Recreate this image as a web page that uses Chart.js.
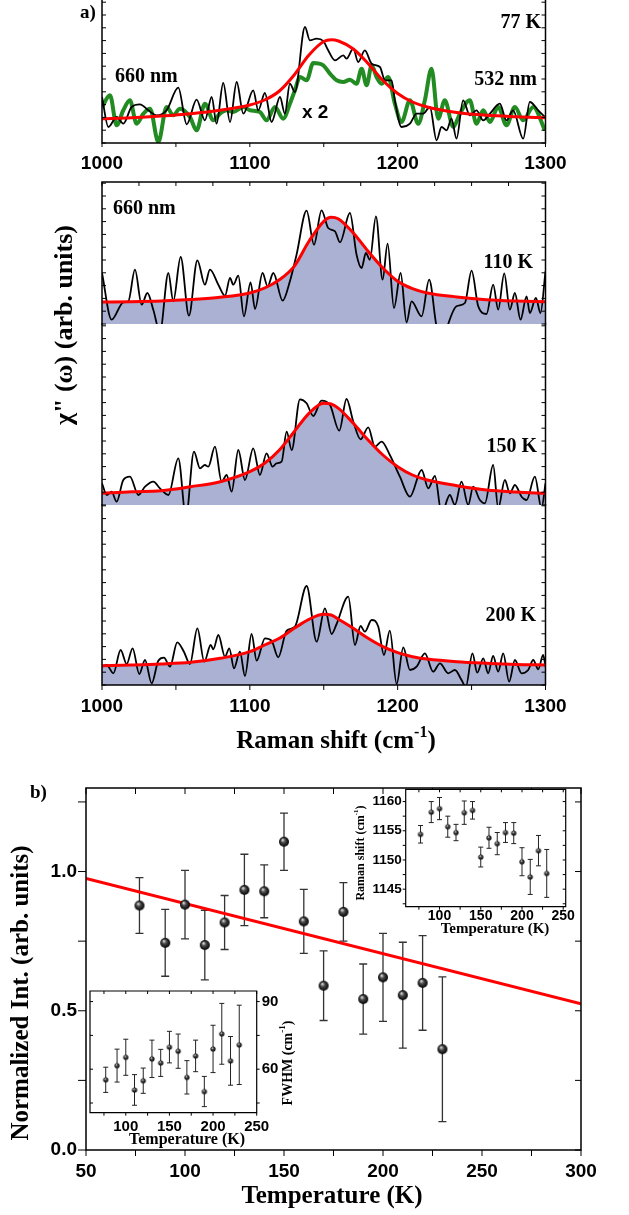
<!DOCTYPE html>
<html>
<head>
<meta charset="utf-8">
<script src="https://cdn.jsdelivr.net/npm/chart.js@4.4.1/dist/chart.umd.min.js"></script>
<style>
  html, body { margin: 0; padding: 0; background: #fff; }
  #fig { position: relative; width: 629px; height: 1215px; overflow: hidden; background: #fff; }
  #fig canvas { position: absolute; left: 0; top: 0; }
</style>
</head>
<body>
<div id="fig"></div>
<script>
// ---- a) Raman spectra (arb. units), x in cm-1 ----
// Lorentzian fits, sampled on a common shift grid
const fitShift = [1000, 1020, 1040, 1060, 1080, 1100, 1110, 1120, 1130, 1140, 1150, 1155, 1160, 1170, 1180, 1190, 1200, 1210, 1220, 1240, 1260, 1280, 1300];
const fit77  = [24.3, 25.3, 27, 29.3, 32.7, 38, 43, 52, 68, 88, 101.5, 103.3, 102, 94, 79.5, 62.5, 49.5, 41, 36, 30.5, 27.7, 26.3, 25.3];
const fit110 = [22, 22.3, 23, 24.5, 26.7, 31, 36, 44.3, 57.7, 82.7, 102.7, 106.7, 105, 91, 72.7, 56, 42.7, 35.3, 31, 27, 24.3, 23, 22.3];
const fit150 = [11.7, 13.3, 14.3, 18.3, 23.3, 33.3, 41.7, 55, 73.3, 91.7, 101.7, 101, 96.7, 81.7, 65, 50, 38.3, 30, 25, 19.3, 15, 13, 11.7];
const fit200 = [19.3, 20, 21, 22.7, 26.7, 33.3, 40, 46.7, 56.7, 65.7, 70.7, 70, 65.7, 56.7, 46.7, 38.3, 32.3, 28.3, 26, 23.3, 21.7, 20.5, 20];

// 77 K, 660 nm
const shift77 = [1000, 1004.3, 1009.9, 1014.4, 1020, 1025.7, 1031.3, 1037, 1043.7, 1051.6, 1057.3, 1064, 1069.6, 1074.2, 1077.5, 1082, 1086.6, 1091.1, 1095.6, 1102.3, 1105.7, 1110.2, 1114.7, 1120.4, 1123.7, 1127.1, 1130.5, 1137.3, 1140.6, 1145.2, 1149.7, 1153, 1157.6, 1163.2, 1165.4, 1170, 1173.3, 1177.8, 1182.4, 1188, 1191.4, 1195.9, 1198.1, 1202.6, 1208.3, 1212.8, 1217.3, 1221.8, 1226.3, 1229.7, 1233.1, 1236.4, 1239.8, 1244.3, 1248.8, 1253.3, 1257.9, 1262.4, 1269.1, 1273.6, 1278.1, 1284.9, 1289.4, 1295.1, 1299.6];
const int77 = [46, 16, 26, 19.3, 36, 38.7, 32.7, 27.7, 32.7, 55.3, 18.7, 43.3, 22.7, 46, 19.3, 60, 21, 61, 29.3, 52.7, 32.7, 50, 21, 46, 29.3, 59.3, 51, 116, 102.7, 104.3, 102, 92.7, 82.7, 87.7, 84.3, 94.3, 81, 92.7, 79.3, 76, 62.7, 62.7, 42.7, 16, 19.3, 29.3, 29.3, 36, 2.7, 16, 12.7, 24.3, 4.3, 42.7, 27.7, 32.7, 22.7, 29.3, 39.3, 22.7, 32.7, 4.3, 41, 32.7, 26];

// 77 K, 532 nm (x 2)
const shift77g = [1000, 1005.4, 1009.9, 1014.4, 1018.9, 1023.4, 1028, 1032.5, 1038.1, 1043.7, 1048.2, 1052.7, 1059.5, 1064, 1069.6, 1075.3, 1079.8, 1084.3, 1088.8, 1095.6, 1100.1, 1106.8, 1111.3, 1117, 1122.6, 1127.1, 1130.5, 1133.9, 1138.4, 1142.9, 1149.7, 1154.2, 1158.7, 1163.2, 1167.7, 1172.2, 1175.6, 1179, 1182.4, 1185.7, 1189.1, 1193.6, 1198.1, 1202.6, 1208.3, 1213.9, 1218.4, 1222.9, 1227.4, 1231.9, 1237.6, 1242.1, 1248.8, 1253.3, 1257.9, 1262.4, 1268, 1273.6, 1279.3, 1284.9, 1291.7, 1299.6];
const int77g = [36, 47.7, 17.7, 32.7, 42.7, 19.3, 29.3, 34.3, 1, 36, 27.7, 34.3, 26, 12.7, 39.3, 22.7, 29.3, 32.7, 31, 36, 32.7, 31, 22.7, 36, 24.3, 39.3, 52.7, 66, 62.7, 80, 77.7, 69.3, 62.7, 61, 63.3, 59.3, 74.3, 57.7, 77.7, 66, 59.3, 66, 39.3, 21, 42.7, 19.3, 42.7, 74.3, 24.3, 42.7, 16, 29.3, 42.7, 19.3, 32.7, 21, 36, 17.7, 36, 22.7, 36, 12.7];

// 110 K
const shift110 = [1000, 1006.5, 1014.4, 1017.8, 1022.3, 1026.8, 1030.7, 1034.7, 1039.2, 1044.9, 1048.2, 1053.2, 1058.8, 1064.5, 1069.6, 1073, 1078.7, 1083.2, 1086.6, 1088.8, 1092.2, 1096, 1100.5, 1103.5, 1108.6, 1112, 1115.9, 1122.2, 1127.1, 1131.6, 1138.4, 1143.4, 1148.5, 1153, 1157.6, 1161, 1167.7, 1172.2, 1175.6, 1178.5, 1181.2, 1185.3, 1189.8, 1193.2, 1197.5, 1202, 1206, 1209.4, 1216.2, 1221.3, 1226.3, 1230.8, 1234.2, 1239.8, 1245.5, 1250, 1254.5, 1260.1, 1264.6, 1268, 1272.1, 1275.9, 1279.3, 1283.1, 1287.2, 1289.4, 1293.5, 1296.6, 1300];
const int110 = [51, 4.3, 21.7, 22.7, 54.3, 19.3, 31, 14.3, -8, 51, 22.7, 67, 8.3, 63.7, 39.3, 54.3, 39.3, 28.3, 46, 39.3, 48.3, 7.7, 41.7, 15, 51, 37.7, 51, 23.3, 42.7, 69.3, 113.3, 79.3, 113.7, 96, 92.7, 81.7, 111, 69.3, 56, 71, 64.3, 107.7, 44.3, 80.3, 16, 51, 1.7, 22.7, 7.7, 44.3, -2.3, -19, 0, 17.7, 21, 53.3, 17.7, 10, 39.3, 14.3, 50.7, 14.3, 31, 4.3, 27.7, 11, 26, 11, 52.7];

// 150 K
const shift150 = [1000, 1003.2, 1006.5, 1009.9, 1014.4, 1018.9, 1024.6, 1029.1, 1034.7, 1039.2, 1044.9, 1051.6, 1056.8, 1062.2, 1066.3, 1069.6, 1071.9, 1076.4, 1080.9, 1084.3, 1087.7, 1092.2, 1096.7, 1102.3, 1106.8, 1111.3, 1115.4, 1118.1, 1121.5, 1124.9, 1128.3, 1133.9, 1138.4, 1142.9, 1148.5, 1154.2, 1160.5, 1165.4, 1170, 1174.9, 1180.1, 1184.6, 1189.1, 1194.7, 1201.5, 1208.3, 1216.2, 1220.7, 1225.2, 1229.7, 1235.3, 1238.7, 1243.2, 1247.7, 1251.1, 1255.6, 1259, 1264.6, 1268, 1272.5, 1275.9, 1279.3, 1283.8, 1287.2, 1292.8, 1297.3, 1300];
const int150 = [21.7, 10, 13.3, 3.3, 25, 28.3, 10, 18.3, 23.3, 16.7, 10, 46.7, -11.7, 53.3, 36.7, 40, 38.3, 58.3, 23.3, 30, 13.3, 55, 25, 56.7, 30, 51.7, 38.3, 41.7, 43.3, 73.3, 55, 105.7, 101.7, 89, 104.3, 100, 74.3, 106, 83.3, 65.7, 77.7, 58.3, 63.3, 50, 28.3, 8.3, 35, 16.7, 29, -8.3, 10, 0, 23.3, 0, 18.3, 5, 1.7, 40, -3.3, 25, 11.7, 20, 8.3, 5, 28.3, -3.3, 21.7];

// 200 K
const shift200 = [1000, 1003.2, 1007.7, 1012.6, 1016.7, 1020.7, 1025.2, 1029.1, 1033.6, 1038.1, 1041.9, 1046, 1050.9, 1055.4, 1059.5, 1064.5, 1069.2, 1073.5, 1075.3, 1078.7, 1083.2, 1086.1, 1089.3, 1093.3, 1096.7, 1101.2, 1104.6, 1110.2, 1114.7, 1119.2, 1124.9, 1130.5, 1138.4, 1145.2, 1150.8, 1155.3, 1158.7, 1166.6, 1171.1, 1174.9, 1177.8, 1182.4, 1186.9, 1190.7, 1194.7, 1199.3, 1203.8, 1208.3, 1212.8, 1218.4, 1224, 1228.6, 1234.2, 1238.7, 1243.2, 1246.1, 1250.6, 1253.8, 1257.9, 1261.2, 1264.6, 1268, 1271.4, 1275.4, 1279.3, 1283.8, 1288.3, 1291.7, 1295.1, 1298.4, 1300];
const int200 = [18.3, 20, 11.7, 35, 21, 36.7, 11, 25, 1.7, 24.3, 27.3, 18.3, 42.7, 33.3, 21, 56.7, 23.3, 40, 35.7, 50, 28.3, 36.7, 16.7, 33.3, 9, 51, 24.3, 46.7, 44.3, 27.7, 54.3, 58.3, 99, 43.3, 76.7, 51, 61, 88.3, 40, 59, 53.3, 65, 58.3, 30, 54.3, 1, 37.7, 15, 18.3, 31.7, 13.3, 21.7, 11.7, 15, 5, -1.7, 31.7, 12.3, 26.7, 11.7, 29, 13.3, 31.7, 3.3, 25, 11.7, 15, 25, 15.7, 30, 18.3];

// ---- b) temperature dependence ----
const tempK = [77, 90, 100, 110, 120, 130, 140, 150, 160, 170, 180, 190, 200, 210, 220, 230];
const normInt = [0.878, 0.744, 0.881, 0.736, 0.817, 0.934, 0.929, 1.107, 0.821, 0.590, 0.855, 0.542, 0.620, 0.556, 0.600, 0.362];
const normIntErr = [0.10, 0.12, 0.123, 0.125, 0.097, 0.128, 0.095, 0.103, 0.115, 0.125, 0.105, 0.126, 0.158, 0.19, 0.17, 0.26];
const fitTemp = [50, 300];
const fitInt = [0.975, 0.525];

const ramanShift = [1154.4, 1158.2, 1158.8, 1155.7, 1154.7, 1158.1, 1158.5, 1150.5, 1153.8, 1152.8, 1154.7, 1154.6, 1149.7, 1147.1, 1151.6, 1147.7];
const ramanShiftErr = [1.5, 1.8, 1.9, 1.8, 1.4, 2.0, 1.5, 1.7, 1.8, 1.9, 1.7, 1.8, 2.4, 3.0, 2.6, 4.1];

const fwhm = [55.3, 61.6, 65.3, 50.8, 54.9, 64.6, 62.8, 69.8, 68.0, 56.4, 65.9, 50.1, 69.0, 75.7, 63.7, 70.8];
const fwhmErr = [5.6, 7.3, 8.0, 6.8, 5.6, 8.3, 6.0, 7.0, 7.6, 7.4, 7.0, 6.7, 10.5, 13.5, 10.8, 17.6];

// ---- drawing ----
const W = 629, H = 1215;
const SERIF = '"Liberation Serif", "Times New Roman", serif';
const SANS = '"Liberation Sans", Arial, sans-serif';
const RED = '#ff0000';
const GREEN = '#228b22';
const FILL = 'rgb(170, 177, 210)';
const Y_STEP = 12.8; // spacing of the unlabeled intensity ticks

const pts = (xs, ys) => xs.map((x, i) => ({ x, y: ys[i] }));

// black shaded sphere used as point marker
function ball(r) {
    const s = Math.ceil(2 * r + 2);
    const c = document.createElement('canvas');
    c.width = c.height = s;
    const g = c.getContext('2d');
    const m = s / 2;
    const grad = g.createRadialGradient(m - r * 0.3, m - r * 0.4, r * 0.05, m, m, r);
    grad.addColorStop(0, '#e6e6e6');
    grad.addColorStop(0.4, '#4a4a4a');
    grad.addColorStop(1, '#000');
    g.fillStyle = grad;
    g.beginPath();
    g.arc(m, m, r, 0, Math.PI * 2);
    g.fill();
    return c;
}

// text with optional superscripts, optionally rotated
function drawNote(ctx, n) {
    const size = n.size, fam = n.family || SERIF;
    ctx.save();
    ctx.translate(n.x, n.y);
    if (n.rot) ctx.rotate(n.rot);
    ctx.fillStyle = '#000';
    ctx.textBaseline = 'middle';
    ctx.textAlign = 'left';
    const parts = n.parts.map(p => typeof p === 'string'
        ? { t: p, font: `bold ${size}px ${fam}`, dy: 0 }
        : { t: p.sup, font: `bold ${Math.round(size * 0.62)}px ${fam}`, dy: -size * 0.36 });
    let total = 0;
    parts.forEach(p => { ctx.font = p.font; p.w = ctx.measureText(p.t).width; total += p.w; });
    let x = n.align === 'center' ? -total / 2 : n.align === 'right' ? -total : 0;
    parts.forEach(p => { ctx.font = p.font; ctx.fillText(p.t, x, p.dy); x += p.w; });
    ctx.restore();
}

function notes(items) {
    return { id: 'notes', afterDraw(chart) { items.forEach(n => drawNote(chart.ctx, n)); } };
}

// axis lines and tick marks, placed with the chart scales
function frame(edges, ticks, width) {
    return {
        id: 'frame',
        afterDraw(chart) {
            const { ctx, chartArea: a } = chart;
            ctx.save();
            ctx.strokeStyle = '#000';
            ctx.lineWidth = width || 1.5;
            ctx.lineCap = 'square';
            ctx.beginPath();
            edges.forEach(e => {
                if (e === 'left') { ctx.moveTo(a.left, a.top); ctx.lineTo(a.left, a.bottom); }
                if (e === 'right') { ctx.moveTo(a.right, a.top); ctx.lineTo(a.right, a.bottom); }
                if (e === 'top') { ctx.moveTo(a.left, a.top); ctx.lineTo(a.right, a.top); }
                if (e === 'bottom') { ctx.moveTo(a.left, a.bottom); ctx.lineTo(a.right, a.bottom); }
            });
            ctx.stroke();
            ctx.lineWidth = 1;
            ctx.lineCap = 'butt';
            ctx.beginPath();
            ticks.forEach(t => {
                const s = chart.scales[t.axis];
                const d = t.out ? t.len : -t.len;
                const n0 = Math.ceil(s.min / t.step - 1e-6);
                for (let k = n0; k * t.step <= s.max + 1e-6; k++) {
                    const p = s.getPixelForValue(k * t.step);
                    if (t.edge === 'bottom') { ctx.moveTo(p, a.bottom); ctx.lineTo(p, a.bottom + d); }
                    if (t.edge === 'top') { ctx.moveTo(p, a.top); ctx.lineTo(p, a.top - d); }
                    if (t.edge === 'left') { ctx.moveTo(a.left, p); ctx.lineTo(a.left - d, p); }
                    if (t.edge === 'right') { ctx.moveTo(a.right, p); ctx.lineTo(a.right + d, p); }
                }
            });
            ctx.stroke();
            ctx.restore();
        }
    };
}

// vertical error bars from dataset.errors
function errorBars(color, width, cap) {
    return {
        id: 'errorBars',
        beforeDatasetsDraw(chart) {
            const { ctx } = chart;
            const xs = chart.scales.x, ys = chart.scales.y;
            ctx.save();
            ctx.strokeStyle = color;
            ctx.lineWidth = width;
            chart.data.datasets.forEach(ds => {
                if (!ds.errors) return;
                ds.data.forEach((p, i) => {
                    const x = xs.getPixelForValue(p.x);
                    const hi = ys.getPixelForValue(p.y + ds.errors[i]);
                    const lo = ys.getPixelForValue(p.y - ds.errors[i]);
                    ctx.beginPath();
                    ctx.moveTo(x, lo); ctx.lineTo(x, hi);
                    ctx.moveTo(x - cap, lo); ctx.lineTo(x + cap, lo);
                    ctx.moveTo(x - cap, hi); ctx.lineTo(x + cap, hi);
                    ctx.stroke();
                });
            });
            ctx.restore();
        }
    };
}

// white plot background for the insets
const paper = {
    id: 'paper',
    beforeDraw(chart) {
        const { ctx, chartArea: a } = chart;
        ctx.save();
        ctx.fillStyle = '#fff';
        ctx.fillRect(a.left, a.top, a.right - a.left, a.bottom - a.top);
        ctx.restore();
    }
};

function baseOptions(pad) {
    return {
        responsive: false,
        animation: false,
        events: [],
        devicePixelRatio: 1,
        layout: { padding: pad },
        elements: { point: { radius: 0 }, line: { cubicInterpolationMode: 'monotone', fill: false } },
        plugins: {
            legend: { display: false },
            tooltip: { enabled: false },
            filler: { drawTime: 'beforeDatasetsDraw' }
        }
    };
}

function numAxis(o) {
    return {
        type: 'linear',
        min: o.min, max: o.max,
        display: o.display !== false,
        position: o.position,
        grid: { display: true, drawOnChartArea: false, drawTicks: true, tickLength: o.tl || 0, color: 'rgba(0,0,0,0)' },
        border: { display: false },
        ticks: {
            stepSize: o.step,
            includeBounds: false,
            padding: o.pad || 0,
            maxRotation: 0,
            autoSkip: false,
            color: '#000',
            font: { family: SANS, size: o.size || 19, weight: 'bold' },
            callback: o.fmt || (v => String(v))
        },
        afterFit: s => {
            if (o.h !== undefined) s.height = o.h;
            if (o.w !== undefined) s.width = o.w;
        }
    };
}

function mount(config) {
    const c = document.createElement('canvas');
    c.width = W; c.height = H;
    c.style.width = W + 'px'; c.style.height = H + 'px';
    document.getElementById('fig').appendChild(c);
    return new Chart(c, config);
}

Chart.defaults.font.family = SANS;
Chart.defaults.color = '#000';

const LEFT = 102, RIGHT = W - 545.5;
const yTicksA = [
    { axis: 'y', edge: 'left', step: Y_STEP, len: 4 },
    { axis: 'y', edge: 'right', step: Y_STEP, len: 4 }
];

// a) 77 K, both excitation lines
mount({
    type: 'line',
    data: { datasets: [
        { data: pts(fitShift, fit77), borderColor: RED, borderWidth: 3, order: 0 },
        { data: pts(shift77, int77), borderColor: '#000', borderWidth: 1.8, order: 1 },
        { data: pts(shift77g, int77g), borderColor: GREEN, borderWidth: 4, order: 2 }
    ] },
    options: Object.assign(baseOptions({ left: LEFT, right: RIGHT, top: 0, bottom: H - 143 - 30 }), {
        scales: {
            x: numAxis({ min: 1000, max: 1300, step: 100, tl: 6, pad: 3, h: 30 }),
            y: { type: 'linear', min: 0, max: 143, display: false }
        }
    }),
    plugins: [
        frame(['left', 'right', 'bottom'], [{ axis: 'x', edge: 'bottom', step: 50, len: 4, out: true }].concat(yTicksA)),
        notes([
            { parts: ['a)'], x: 80, y: 13, size: 19, align: 'left' },
            { parts: ['77 K'], x: 541, y: 23, size: 20, align: 'right' },
            { parts: ['660 nm'], x: 115, y: 77, size: 20, align: 'left' },
            { parts: ['532 nm'], x: 537, y: 80, size: 20, align: 'right' },
            { parts: ['x 2'], x: 302, y: 113, size: 19, family: SANS, align: 'left' }
        ])
    ]
});

// a) stacked spectra with filled fits
function stackPanel(fit, shift, inten, top, bottom, edges, extraTicks, showX, items) {
    const xh = showX ? 30 : 0;
    return mount({
        type: 'line',
        data: { datasets: [
            { data: pts(fitShift, fit), borderColor: RED, borderWidth: 3, fill: 'origin', backgroundColor: FILL, order: 0 },
            { data: pts(shift, inten), borderColor: '#000', borderWidth: 1.8, order: 1 }
        ] },
        options: Object.assign(baseOptions({ left: LEFT, right: RIGHT, top: top, bottom: H - bottom - xh }), {
            scales: {
                x: numAxis({ min: 1000, max: 1300, step: 100, tl: 6, pad: 4, h: xh, display: showX }),
                y: { type: 'linear', min: 0, max: bottom - top, display: false }
            }
        }),
        plugins: [frame(edges, yTicksA.concat(extraTicks)), notes(items)]
    });
}

stackPanel(fit110, shift110, int110, 182, 324, ['top', 'left', 'right'],
    [{ axis: 'x', edge: 'top', step: 25, len: 4 }],
    false,
    [
        { parts: ['660 nm'], x: 113, y: 209, size: 20, align: 'left' },
        { parts: ['110 K'], x: 533, y: 263, size: 20, align: 'right' },
        { parts: ['\u03C7" (\u03C9) (arb. units)'], x: 65, y: 325, size: 26, align: 'center', rot: -Math.PI / 2 }
    ]);

stackPanel(fit150, shift150, int150, 324, 505, ['left', 'right'], [], false,
    [{ parts: ['150 K'], x: 537, y: 447, size: 20, align: 'right' }]);

stackPanel(fit200, shift200, int200, 505, 685, ['left', 'right', 'bottom'],
    [{ axis: 'x', edge: 'bottom', step: 50, len: 5, out: true }],
    true,
    [
        { parts: ['200 K'], x: 536, y: 616, size: 20, align: 'right' },
        { parts: ['Raman shift (cm', { sup: '-1' }, ')'], x: 336, y: 742, size: 25, align: 'center' }
    ]);

// b) normalized intensity vs temperature
mount({
    type: 'line',
    data: { datasets: [
        { data: pts(tempK, normInt), errors: normIntErr, showLine: false, pointStyle: ball(5), pointRadius: 5, order: 0 },
        { data: pts(fitTemp, fitInt), borderColor: RED, borderWidth: 3, order: 1 }
    ] },
    options: Object.assign(baseOptions({ left: 0, right: W - 581, top: 788, bottom: H - 1150 - 30 }), {
        scales: {
            x: numAxis({ min: 50, max: 300, step: 50, tl: 7, pad: 3, h: 30 }),
            y: numAxis({ min: 0, max: 1.3, step: 0.5, tl: 8, pad: 1, w: 86, fmt: v => v.toFixed(1) })
        }
    }),
    plugins: [
        errorBars('#333', 1.3, 4),
        frame(['left', 'right', 'top', 'bottom'], [
            { axis: 'x', edge: 'bottom', step: 25, len: 6, out: true },
            { axis: 'x', edge: 'top', step: 25, len: 6 },
            { axis: 'y', edge: 'left', step: 0.25, len: 8, out: true },
            { axis: 'y', edge: 'right', step: 0.25, len: 6 }
        ]),
        notes([
            { parts: ['b)'], x: 30, y: 793, size: 19, align: 'left' },
            { parts: ['Normalized Int. (arb. units)'], x: 22, y: 993, size: 25, align: 'center', rot: -Math.PI / 2 },
            { parts: ['Temperature (K)'], x: 332, y: 1197, size: 25, align: 'center' }
        ])
    ]
});

// inset: Raman shift vs temperature
mount({
    type: 'line',
    data: { datasets: [
        { data: pts(tempK, ramanShift), errors: ramanShiftErr, showLine: false, pointStyle: ball(2.6), pointRadius: 3 }
    ] },
    options: Object.assign(baseOptions({ left: 405.7 - 34, right: W - 565.7, top: 789.3, bottom: H - 906.7 - 20 }), {
        scales: {
            x: numAxis({ min: 59, max: 253, step: 50, tl: 0, pad: 1, h: 20, size: 14 }),
            y: numAxis({ min: 1142, max: 1162.1, step: 5, tl: 3, pad: 1, w: 34, size: 13.5 })
        }
    }),
    plugins: [
        paper,
        errorBars('#222', 1, 2.5),
        frame(['left', 'right', 'top', 'bottom'], [
            { axis: 'x', edge: 'bottom', step: 25, len: 3, out: true },
            { axis: 'x', edge: 'top', step: 25, len: 3 },
            { axis: 'y', edge: 'left', step: 2.5, len: 3, out: true },
            { axis: 'y', edge: 'right', step: 2.5, len: 3 }
        ], 1.2),
        notes([
            { parts: ['Raman shift (cm', { sup: '-1' }, ')'], x: 361, y: 853, size: 12, align: 'center', rot: -Math.PI / 2 },
            { parts: ['Temperature (K)'], x: 495, y: 929, size: 15, align: 'center' }
        ])
    ]
});

// inset: FWHM vs temperature
mount({
    type: 'line',
    data: { datasets: [
        { data: pts(tempK, fwhm), errors: fwhmErr, showLine: false, pointStyle: ball(2.6), pointRadius: 3 }
    ] },
    options: Object.assign(baseOptions({ left: 90, right: W - 256.7 - 30, top: 991, bottom: H - 1112.7 - 22 }), {
        scales: {
            x: numAxis({ min: 59, max: 250, step: 50, tl: 3, pad: 2, h: 22, size: 15 }),
            y: numAxis({ min: 40.7, max: 94.7, step: 30, tl: 3, pad: 2, w: 30, size: 15, position: 'right' })
        }
    }),
    plugins: [
        paper,
        errorBars('#222', 1, 2.5),
        frame(['left', 'right', 'top', 'bottom'], [
            { axis: 'x', edge: 'bottom', step: 25, len: 3, out: true },
            { axis: 'x', edge: 'top', step: 25, len: 3 },
            { axis: 'y', edge: 'left', step: 15, len: 3 },
            { axis: 'y', edge: 'right', step: 15, len: 3, out: true }
        ], 1.2),
        notes([
            { parts: ['FWHM (cm', { sup: '-1' }, ')'], x: 288, y: 1063, size: 14, align: 'center', rot: -Math.PI / 2 },
            { parts: ['Temperature (K)'], x: 187, y: 1140, size: 16, align: 'center' }
        ])
    ]
});
</script>
</body>
</html>
